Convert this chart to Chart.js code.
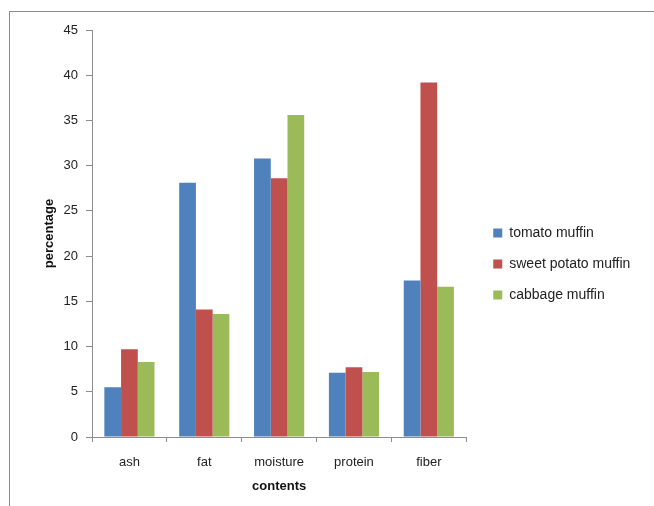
<!DOCTYPE html>
<html>
<head>
<meta charset="utf-8">
<script src="https://cdn.jsdelivr.net/npm/chart.js@4/dist/chart.umd.min.js"></script>
<style>
  body { margin: 0; background: #fff; }
  #wrap { position: relative; width: 654px; height: 506px; }
  #frame { position: absolute; left: 9px; top: 11px; right: 0; bottom: 0;
           border-top: 1px solid #8c8c8c; border-left: 1px solid #8c8c8c; }
  canvas { position: absolute; left: 0; top: 0; }
</style>
</head>
<body>
<div id="wrap">
  <div id="frame"></div>
  <canvas id="muffinChart" width="654" height="506"></canvas>
</div>
<script>
const categories = ['ash', 'fat', 'moisture', 'protein', 'fiber'];
const tomato = [5.5, 28.1, 30.8, 7.1, 17.3];
const sweetPotato = [9.7, 14.1, 28.6, 7.7, 39.2];
const cabbage = [8.3, 13.6, 35.6, 7.2, 16.6];
const seriesNames = ['tomato muffin', 'sweet potato muffin', 'cabbage muffin'];
const yMax = 45;
const yStep = 5;

const font = { family: 'Liberation Sans, Arial, sans-serif', size: 13 };
const axisColor = '#8c8c8c';

// move the legend a bit away from the plot and let it use the space up to the edge
const legendShift = {
    id: 'legendShift',
    afterLayout(chart) {
        chart.legend.left += 10;
        chart.legend.right = chart.width;
        chart.legend.width = chart.legend.right - chart.legend.left;
    }
};

const ctx = document.getElementById('muffinChart').getContext('2d');
new Chart(ctx, {
    type: 'bar',
    data: {
        labels: categories,
        datasets: [
            { label: seriesNames[0], data: tomato, backgroundColor: '#4F81BD' },
            { label: seriesNames[1], data: sweetPotato, backgroundColor: '#C0504D' },
            { label: seriesNames[2], data: cabbage, backgroundColor: '#9BBB59' }
        ]
    },
    plugins: [legendShift],
    options: {
        responsive: false,
        animation: false,
        layout: { padding: { top: 30, left: 38, right: 45, bottom: 8 } },
        datasets: { bar: { categoryPercentage: 0.67, barPercentage: 1 } },
        plugins: {
            tooltip: { enabled: false },
            legend: {
                position: 'right',
                labels: {
                    font: { family: font.family, size: 14 },
                    color: '#222',
                    boxWidth: 9,
                    boxHeight: 9,
                    padding: 17
                }
            }
        },
        scales: {
            x: {
                afterFit: (s) => { s.height = 61; },
                border: { color: axisColor },
                grid: { drawOnChartArea: false, tickLength: 5, color: axisColor },
                ticks: { font: font, color: '#222', padding: 13 },
                title: { display: true, text: 'contents', color: '#111',
                         font: { family: font.family, size: 13, weight: 'bold' }, padding: { top: 2 } }
            },
            y: {
                min: 0,
                max: yMax,
                afterFit: (s) => { s.width = 54; },
                border: { color: axisColor },
                grid: { drawOnChartArea: false, tickLength: 6, color: axisColor },
                ticks: { stepSize: yStep, font: font, color: '#222', padding: 8 },
                title: { display: true, text: 'percentage', color: '#111',
                         font: { family: font.family, size: 13, weight: 'bold' } }
            }
        }
    }
});
</script>
</body>
</html>
